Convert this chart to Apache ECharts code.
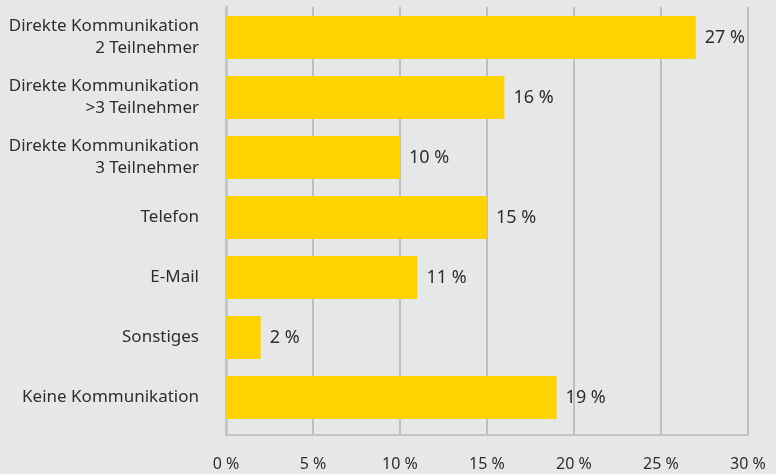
<!DOCTYPE html>
<html><head><meta charset="utf-8">
<script src="https://cdn.jsdelivr.net/npm/echarts@6/dist/echarts.min.js"></script>
<style>html,body{margin:0;padding:0;background:#e6e7e9}#c{width:776px;height:474px}</style>
</head><body><div id="c"></div>
<script>
const categories = ['Direkte Kommunikation\n2 Teilnehmer','Direkte Kommunikation\n>3 Teilnehmer','Direkte Kommunikation\n3 Teilnehmer','Telefon','E-Mail','Sonstiges','Keine Kommunikation'];
const values = [27, 16, 10, 15, 11, 2, 19];
const xTicks = [0, 5, 10, 15, 20, 25, 30];
const FONT = 'Noto Sans';
const chart = echarts.init(document.getElementById('c'));
chart.setOption({
  backgroundColor: '#e6e7e9',
  animation: false,
  textStyle: {fontFamily: FONT},
  grid: [
    {left: 226, right: 28, top: 7.5, height: 420, containLabel: false},
    {left: 226, right: 28, top: 7, bottom: 39, containLabel: false}
  ],
  xAxis: [
    {gridIndex: 0, type: 'value', min: 0, max: 30, interval: 5, show: false},
    {gridIndex: 1, type: 'value', min: xTicks[0], max: xTicks[xTicks.length-1], interval: 5,
     axisLine: {show: true, lineStyle: {color: '#c3c4c6', width: 2}},
     axisTick: {show: false},
     splitLine: {show: true, lineStyle: {color: '#bebfc1', width: 2}},
     axisLabel: {margin: 21, fontSize: 16, color: '#2e2e2e', fontFamily: FONT, formatter: v => v + ' %'}}
  ],
  yAxis: [
    {gridIndex: 0, type: 'category', data: categories, inverse: true,
     axisLine: {show: false}, axisTick: {show: false},
     axisLabel: {margin: 27, fontSize: 17, color: '#2e2e2e', lineHeight: 22, fontFamily: FONT, align: 'right'}},
    {gridIndex: 1, type: 'category', data: [''],
     axisLine: {show: true, lineStyle: {color: '#c3c4c6', width: 3}}, axisTick: {show: false}, axisLabel: {show: false}}
  ],
  series: [{
    type: 'bar', xAxisIndex: 0, yAxisIndex: 0, data: values, barWidth: 43, z: 5,
    itemStyle: {color: '#ffd200'},
    label: {show: true, position: 'right', distance: 9, fontSize: 18, color: '#2e2e2e', fontFamily: FONT, formatter: p => p.value + ' %'}
  }]
});
</script></body></html>
